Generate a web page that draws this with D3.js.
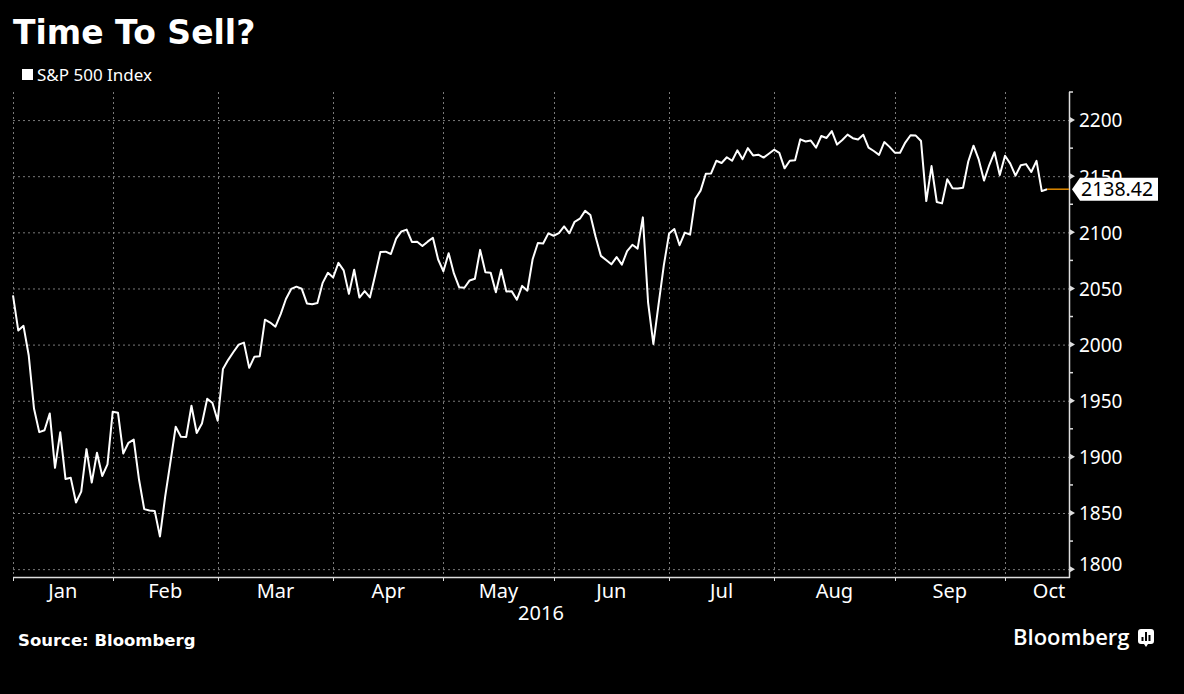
<!DOCTYPE html>
<html>
<head>
<meta charset="utf-8">
<script src="https://cdn.jsdelivr.net/npm/d3@7"></script>
<style>
  html, body { margin: 0; padding: 0; background: #000; }
  svg { display: block; }
  .axis text { font-family: "Noto Sans", sans-serif; fill: #fff; }
</style>
</head>
<body>
<svg id="chart"></svg>
<script>
const width = 1184;
const height = 694;

// S&P 500 daily closes (last value is the intraday quote shown on the axis)
const dates = [
  "2015-12-31",
  "2016-01-04","2016-01-05","2016-01-06","2016-01-07","2016-01-08","2016-01-11","2016-01-12","2016-01-13","2016-01-14","2016-01-15",
  "2016-01-19","2016-01-20","2016-01-21","2016-01-22","2016-01-25","2016-01-26","2016-01-27","2016-01-28","2016-01-29",
  "2016-02-01","2016-02-02","2016-02-03","2016-02-04","2016-02-05","2016-02-08","2016-02-09","2016-02-10","2016-02-11","2016-02-12",
  "2016-02-16","2016-02-17","2016-02-18","2016-02-19","2016-02-22","2016-02-23","2016-02-24","2016-02-25","2016-02-26","2016-02-29",
  "2016-03-01","2016-03-02","2016-03-03","2016-03-04","2016-03-07","2016-03-08","2016-03-09","2016-03-10","2016-03-11","2016-03-14",
  "2016-03-15","2016-03-16","2016-03-17","2016-03-18","2016-03-21","2016-03-22","2016-03-23","2016-03-24","2016-03-28","2016-03-29",
  "2016-03-30","2016-03-31",
  "2016-04-01","2016-04-04","2016-04-05","2016-04-06","2016-04-07","2016-04-08","2016-04-11","2016-04-12","2016-04-13","2016-04-14",
  "2016-04-15","2016-04-18","2016-04-19","2016-04-20","2016-04-21","2016-04-22","2016-04-25","2016-04-26","2016-04-27","2016-04-28",
  "2016-04-29",
  "2016-05-02","2016-05-03","2016-05-04","2016-05-05","2016-05-06","2016-05-09","2016-05-10","2016-05-11","2016-05-12","2016-05-13",
  "2016-05-16","2016-05-17","2016-05-18","2016-05-19","2016-05-20","2016-05-23","2016-05-24","2016-05-25","2016-05-26","2016-05-27",
  "2016-05-31",
  "2016-06-01","2016-06-02","2016-06-03","2016-06-06","2016-06-07","2016-06-08","2016-06-09","2016-06-10","2016-06-13","2016-06-14",
  "2016-06-15","2016-06-16","2016-06-17","2016-06-20","2016-06-21","2016-06-22","2016-06-23","2016-06-24","2016-06-27","2016-06-28",
  "2016-06-29","2016-06-30",
  "2016-07-01","2016-07-05","2016-07-06","2016-07-07","2016-07-08","2016-07-11","2016-07-12","2016-07-13","2016-07-14","2016-07-15",
  "2016-07-18","2016-07-19","2016-07-20","2016-07-21","2016-07-22","2016-07-25","2016-07-26","2016-07-27","2016-07-28","2016-07-29",
  "2016-08-01","2016-08-02","2016-08-03","2016-08-04","2016-08-05","2016-08-08","2016-08-09","2016-08-10","2016-08-11","2016-08-12",
  "2016-08-15","2016-08-16","2016-08-17","2016-08-18","2016-08-19","2016-08-22","2016-08-23","2016-08-24","2016-08-25","2016-08-26",
  "2016-08-29","2016-08-30","2016-08-31",
  "2016-09-01","2016-09-02","2016-09-06","2016-09-07","2016-09-08","2016-09-09","2016-09-12","2016-09-13","2016-09-14","2016-09-15",
  "2016-09-16","2016-09-19","2016-09-20","2016-09-21","2016-09-22","2016-09-23","2016-09-26","2016-09-27","2016-09-28","2016-09-29",
  "2016-09-30",
  "2016-10-03","2016-10-04","2016-10-05","2016-10-06","2016-10-07","2016-10-10","2016-10-11","2016-10-12"
];

const closes = [
  2043.94,
  2012.66, 2016.71, 1990.26, 1943.09, 1922.03, 1923.67, 1938.68, 1890.28, 1921.84, 1880.33,
  1881.33, 1859.33, 1868.99, 1906.90, 1877.08, 1903.63, 1882.95, 1893.36, 1940.24,
  1939.38, 1903.03, 1912.53, 1915.45, 1880.05, 1853.44, 1852.21, 1851.86, 1829.08, 1864.78,
  1895.58, 1926.82, 1917.83, 1917.78, 1945.50, 1921.27, 1929.80, 1951.70, 1948.05, 1932.23,
  1978.35, 1986.45, 1993.40, 1999.99, 2001.76, 1979.26, 1989.26, 1989.57, 2022.19, 2019.64,
  2015.93, 2027.22, 2040.59, 2049.58, 2051.60, 2049.80, 2036.71, 2035.94, 2037.05, 2055.01,
  2063.95, 2059.74,
  2072.78, 2066.13, 2045.17, 2066.66, 2041.91, 2047.60, 2041.99, 2061.72, 2082.42, 2082.78,
  2080.73, 2094.34, 2100.80, 2102.40, 2091.48, 2091.58, 2087.79, 2091.70, 2095.15, 2075.81,
  2065.30,
  2081.43, 2063.37, 2051.12, 2050.63, 2057.14, 2058.69, 2084.39, 2064.46, 2064.11, 2046.61,
  2066.66, 2047.21, 2047.63, 2040.04, 2052.32, 2048.04, 2076.06, 2090.54, 2090.10, 2099.06,
  2096.95,
  2099.33, 2105.26, 2099.13, 2109.41, 2112.13, 2119.12, 2115.48, 2096.07, 2079.06, 2075.32,
  2071.50, 2077.99, 2071.22, 2083.25, 2088.90, 2085.45, 2113.32, 2037.41, 2000.54, 2036.09,
  2070.77, 2098.86,
  2102.95, 2088.55, 2099.73, 2097.90, 2129.90, 2137.16, 2152.14, 2152.43, 2163.75, 2161.74,
  2166.89, 2163.78, 2173.02, 2165.17, 2175.03, 2168.48, 2169.18, 2166.58, 2170.06, 2173.60,
  2170.84, 2157.03, 2163.79, 2164.25, 2182.87, 2180.89, 2181.74, 2175.49, 2185.79, 2184.05,
  2190.15, 2178.15, 2182.22, 2187.02, 2183.87, 2182.64, 2186.90, 2175.44, 2172.47, 2169.04,
  2180.38, 2176.12, 2170.95,
  2170.86, 2179.98, 2186.48, 2186.16, 2181.30, 2127.81, 2159.04, 2127.02, 2125.77, 2147.26,
  2139.16, 2139.12, 2139.76, 2163.12, 2177.18, 2164.69, 2146.10, 2159.93, 2171.37, 2151.13,
  2168.27,
  2161.20, 2150.49, 2159.73, 2160.77, 2153.74, 2163.66, 2136.73, 2138.42
];

const monthLabels = ["Jan", "Feb", "Mar", "Apr", "May", "Jun", "Jul", "Aug", "Sep", "Oct"];
const yTicks = [1800, 1850, 1900, 1950, 2000, 2050, 2100, 2150, 2200];
const yMinorTicks = [1825, 1875, 1925, 1975, 2025, 2075, 2125, 2175, 2225];
const yearLabel = "2016";
const seriesName = "S&P 500 Index";

// Plot area
const plotLeft = 13, plotRight = 1069, plotTop = 92, plotBottom = 577;

const svg = d3.select("#chart")
  .attr("width", width)
  .attr("height", height);

svg.append("rect")
  .attr("width", width)
  .attr("height", height)
  .attr("fill", "#000");

// Trading-day index scale (the axis skips weekends and holidays)
const x = d3.scaleLinear()
  .domain([0, 201])
  .range([plotLeft, plotRight - 1]);

const y = d3.scaleLinear()
  .domain([1793, 2225])
  .range([plotBottom, plotTop]);

// Month boundary = last trading day of the previous month
const monthTicks = monthLabels.map((m, i) => {
  const first = dates.findIndex(d => d.startsWith("2016") && +d.slice(5, 7) === i + 1);
  return first - 1;
});

// Grid lines
const grid = svg.append("g");
grid.selectAll(".hgrid")
  .data(yTicks)
  .enter().append("line")
  .attr("x1", plotLeft)
  .attr("x2", plotRight)
  .attr("y1", d => y(d) + 0.5)
  .attr("y2", d => y(d) + 0.5)
  .attr("stroke", "#7a7a7a")
  .attr("stroke-dasharray", "2,3");

grid.selectAll(".vgrid")
  .data(monthTicks)
  .enter().append("line")
  .attr("x1", d => Math.round(x(d)) + 0.5)
  .attr("x2", d => Math.round(x(d)) + 0.5)
  .attr("y1", plotTop)
  .attr("y2", plotBottom)
  .attr("stroke", "#7a7a7a")
  .attr("stroke-dasharray", "2,3");

// Price line
const line = d3.line()
  .x((d, i) => x(i))
  .y(d => y(d));

svg.append("path")
  .datum(closes)
  .attr("d", line)
  .attr("fill", "none")
  .attr("stroke", "#fff")
  .attr("stroke-width", 2)
  .attr("stroke-linejoin", "round");

// Right axis
const yAxis = svg.append("g")
  .attr("class", "axis")
  .attr("transform", `translate(${plotRight},0)`)
  .call(d3.axisRight(y).tickValues(yTicks).tickFormat(d3.format("d")).tickSize(0).tickPadding(10));
yAxis.select(".domain").remove();
yAxis.selectAll("text")
  .attr("font-size", 19)
  .attr("dy", "0.36em")
  // lowest label sits a little above its gridline, clear of the x axis
  .attr("y", d => d === yTicks[0] ? -5 : 0);

svg.append("line")
  .attr("x1", plotRight + 0.5).attr("x2", plotRight + 0.5)
  .attr("y1", plotTop).attr("y2", plotBottom + 1)
  .attr("stroke", "#ddd").attr("stroke-width", 1.5);

svg.selectAll(".ymajor")
  .data(yTicks)
  .enter().append("path")
  .attr("d", d => `M${plotRight},${y(d) - 3.5}L${plotRight + 6},${y(d)}L${plotRight},${y(d) + 3.5}Z`)
  .attr("fill", "#ddd");

svg.selectAll(".yminor")
  .data(yMinorTicks)
  .enter().append("line")
  .attr("x1", plotRight).attr("x2", plotRight + 4)
  .attr("y1", d => y(d)).attr("y2", d => y(d))
  .attr("stroke", "#ddd").attr("stroke-width", 1.5);

// Bottom axis
svg.append("line")
  .attr("x1", plotLeft).attr("x2", plotRight + 1)
  .attr("y1", plotBottom + 0.5).attr("y2", plotBottom + 0.5)
  .attr("stroke", "#ddd").attr("stroke-width", 1.5);

svg.selectAll(".xtick")
  .data(monthTicks)
  .enter().append("line")
  .attr("x1", d => Math.round(x(d)) + 0.5)
  .attr("x2", d => Math.round(x(d)) + 0.5)
  .attr("y1", plotBottom)
  .attr("y2", plotBottom + 4)
  .attr("stroke", "#ddd");

svg.append("g")
  .attr("class", "axis")
  .selectAll("text")
  .data(monthLabels)
  .enter().append("text")
  .attr("x", (d, i) => {
    const a = x(monthTicks[i]);
    const b = i + 1 < monthTicks.length ? x(monthTicks[i + 1]) : a + 110;
    return Math.min((a + b) / 2, plotRight - 20);
  })
  .attr("y", 598)
  .attr("text-anchor", "middle")
  .attr("font-size", 20)
  .text(d => d);

svg.append("text")
  .attr("x", (plotLeft + plotRight) / 2)
  .attr("y", 620)
  .attr("text-anchor", "middle")
  .attr("font-family", "Noto Sans, sans-serif")
  .attr("font-size", 20)
  .attr("fill", "#fff")
  .text(yearLabel);

// Last value marker (drawn over the axis label it covers, as in the original)
const last = closes[closes.length - 1];
const lastY = y(last);

svg.append("line")
  .attr("x1", x(closes.length - 1)).attr("x2", plotRight)
  .attr("y1", lastY).attr("y2", lastY)
  .attr("stroke", "#e08a00").attr("stroke-width", 1.5);

svg.append("path")
  .attr("d", `M${plotRight + 3},${lastY}L${plotRight + 11},${lastY - 11.5}H1158V${lastY + 11.5}H${plotRight + 11}Z`)
  .attr("fill", "#fff");

svg.append("text")
  .attr("x", plotRight + 12)
  .attr("y", lastY + 7)
  .attr("font-family", "Noto Sans, sans-serif")
  .attr("font-size", 19.5)
  .attr("fill", "#000")
  .text(d3.format(".2f")(last));

// Title and legend
svg.append("text")
  .attr("x", 13)
  .attr("y", 44)
  .attr("font-family", "DejaVu Sans, sans-serif")
  .attr("font-weight", "bold")
  .attr("font-size", 33)
  .attr("fill", "#fff")
  .text("Time To Sell?");

svg.append("rect")
  .attr("x", 22).attr("y", 69)
  .attr("width", 11).attr("height", 11)
  .attr("fill", "#fff");

svg.append("text")
  .attr("x", 37)
  .attr("y", 81)
  .attr("font-family", "Noto Sans, sans-serif")
  .attr("font-size", 17)
  .attr("fill", "#fff")
  .text(seriesName);

// Footer
svg.append("text")
  .attr("x", 18)
  .attr("y", 646)
  .attr("font-family", "DejaVu Sans, sans-serif")
  .attr("font-weight", "bold")
  .attr("font-size", 16.5)
  .attr("fill", "#fff")
  .text("Source: Bloomberg");

svg.append("text")
  .attr("x", 1013)
  .attr("y", 645)
  .attr("font-family", "Open Sans, sans-serif")
  .attr("font-weight", 600)
  .attr("font-size", 22)
  .attr("fill", "#fff")
  .text("Bloomberg");

// Bloomberg logo icon
const icon = svg.append("g").attr("transform", "translate(1138,629)");
icon.append("path")
  .attr("d", "M3,0H13A3,3 0 0 1 16,3V12A3,3 0 0 1 13,15H10L8,18L6,15H3A3,3 0 0 1 0,12V3A3,3 0 0 1 3,0Z")
  .attr("fill", "#fff");
[[3.5, 8], [7, 3], [10.5, 6]].forEach(([bx, by]) => {
  icon.append("rect")
    .attr("x", bx).attr("y", by)
    .attr("width", 2).attr("height", 12 - by)
    .attr("fill", "#000");
});
</script>
</body>
</html>
